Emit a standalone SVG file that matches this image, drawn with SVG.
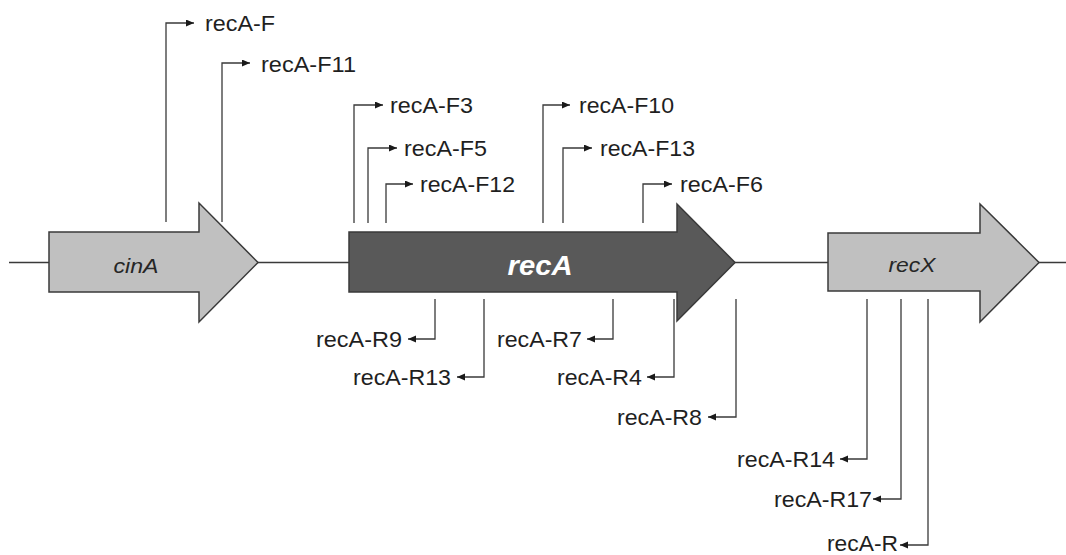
<svg xmlns="http://www.w3.org/2000/svg" width="1066" height="555" viewBox="0 0 1066 555">
<style>
.gene{stroke:#3a3a3a;stroke-width:1.5;stroke-linejoin:miter}
.light{fill:#c0c0c0}
.dark{fill:#595959}
.glabel{font-family:"Liberation Sans",Arial,sans-serif;font-style:italic;font-size:21px;fill:#262626}
.lbl{font-family:"Liberation Sans",Arial,sans-serif;font-size:21.5px;fill:#1f1f1f}
.conn{fill:none;stroke:#3a3a3a;stroke-width:1.3;marker-end:url(#ah)}
</style>
<defs>
<marker id="ah" markerWidth="9" markerHeight="8" refX="8" refY="3.5" orient="auto" markerUnits="userSpaceOnUse">
<path d="M0,0 L8,3.5 L0,7 Z" fill="#1a1a1a"/>
</marker>
</defs>
<rect width="1066" height="555" fill="#ffffff"/>
<g id="backbone"><line x1="9" y1="262.5" x2="1066" y2="262.5" stroke="#3a3a3a" stroke-width="1.5"/></g>
<g id="cinA">
<path class="gene light" d="M49,232 H199 V203 L258,262.5 L199,322 V292 H49 Z"/>
<text class="glabel" x="136" y="273" text-anchor="middle" textLength="45" lengthAdjust="spacingAndGlyphs">cinA</text>
</g>
<g id="recA">
<path class="gene dark" d="M349,232 H677 V204 L735,262.5 L677,321 V292 H349 Z"/>
<text x="540" y="275" text-anchor="middle" font-family="Liberation Sans, Arial, sans-serif" font-size="28" font-weight="bold" font-style="italic" fill="#ffffff" textLength="65" lengthAdjust="spacingAndGlyphs">recA</text>
</g>
<g id="recX">
<path class="gene light" d="M828,233 H980 V204 L1039,262.5 L980,322 V291 H828 Z"/>
<text class="glabel" x="912" y="272" text-anchor="middle" textLength="47" lengthAdjust="spacingAndGlyphs">recX</text>
</g>
<g id="connectors">
<path class="conn" d="M166,222 V23 H194"/>
<path class="conn" d="M222,222 V63 H250"/>
<path class="conn" d="M354,223 V105 H383"/>
<path class="conn" d="M368,223 V148 H397"/>
<path class="conn" d="M386,223 V184 H413"/>
<path class="conn" d="M543,223 V105 H570"/>
<path class="conn" d="M563,223 V148 H592"/>
<path class="conn" d="M643,223 V184 H672"/>
<path class="conn" d="M435,299 V339 H408"/>
<path class="conn" d="M484,299 V377 H457"/>
<path class="conn" d="M613,299 V339 H587"/>
<path class="conn" d="M674,299 V377 H647"/>
<path class="conn" d="M736,299 V417 H708"/>
<path class="conn" d="M867,299 V459 H840"/>
<path class="conn" d="M901,299 V499 H873"/>
<path class="conn" d="M928,299 V545 H900"/>
</g>
<g id="recA-F"><text class="lbl" x="205" y="31" textLength="70" lengthAdjust="spacingAndGlyphs">recA-F</text></g>
<g id="recA-F11"><text class="lbl" x="261" y="72" textLength="95" lengthAdjust="spacingAndGlyphs">recA-F11</text></g>
<g id="recA-F3"><text class="lbl" x="390" y="113" textLength="83" lengthAdjust="spacingAndGlyphs">recA-F3</text></g>
<g id="recA-F5"><text class="lbl" x="404" y="156" textLength="83" lengthAdjust="spacingAndGlyphs">recA-F5</text></g>
<g id="recA-F12"><text class="lbl" x="420" y="192" textLength="95" lengthAdjust="spacingAndGlyphs">recA-F12</text></g>
<g id="recA-F10"><text class="lbl" x="579" y="113" textLength="95" lengthAdjust="spacingAndGlyphs">recA-F10</text></g>
<g id="recA-F13"><text class="lbl" x="600" y="156" textLength="95" lengthAdjust="spacingAndGlyphs">recA-F13</text></g>
<g id="recA-F6"><text class="lbl" x="680" y="192" textLength="83" lengthAdjust="spacingAndGlyphs">recA-F6</text></g>
<g id="recA-R9"><text class="lbl" x="402" y="347" text-anchor="end" textLength="86" lengthAdjust="spacingAndGlyphs">recA-R9</text></g>
<g id="recA-R13"><text class="lbl" x="451" y="385" text-anchor="end" textLength="98" lengthAdjust="spacingAndGlyphs">recA-R13</text></g>
<g id="recA-R7"><text class="lbl" x="582" y="347" text-anchor="end" textLength="85" lengthAdjust="spacingAndGlyphs">recA-R7</text></g>
<g id="recA-R4"><text class="lbl" x="642" y="385" text-anchor="end" textLength="85" lengthAdjust="spacingAndGlyphs">recA-R4</text></g>
<g id="recA-R8"><text class="lbl" x="702" y="425" text-anchor="end" textLength="85" lengthAdjust="spacingAndGlyphs">recA-R8</text></g>
<g id="recA-R14"><text class="lbl" x="835" y="467" text-anchor="end" textLength="98" lengthAdjust="spacingAndGlyphs">recA-R14</text></g>
<g id="recA-R17"><text class="lbl" x="872" y="507" text-anchor="end" textLength="98" lengthAdjust="spacingAndGlyphs">recA-R17</text></g>
<g id="recA-R"><text class="lbl" x="898" y="551" text-anchor="end" textLength="71" lengthAdjust="spacingAndGlyphs">recA-R</text></g>
</svg>
